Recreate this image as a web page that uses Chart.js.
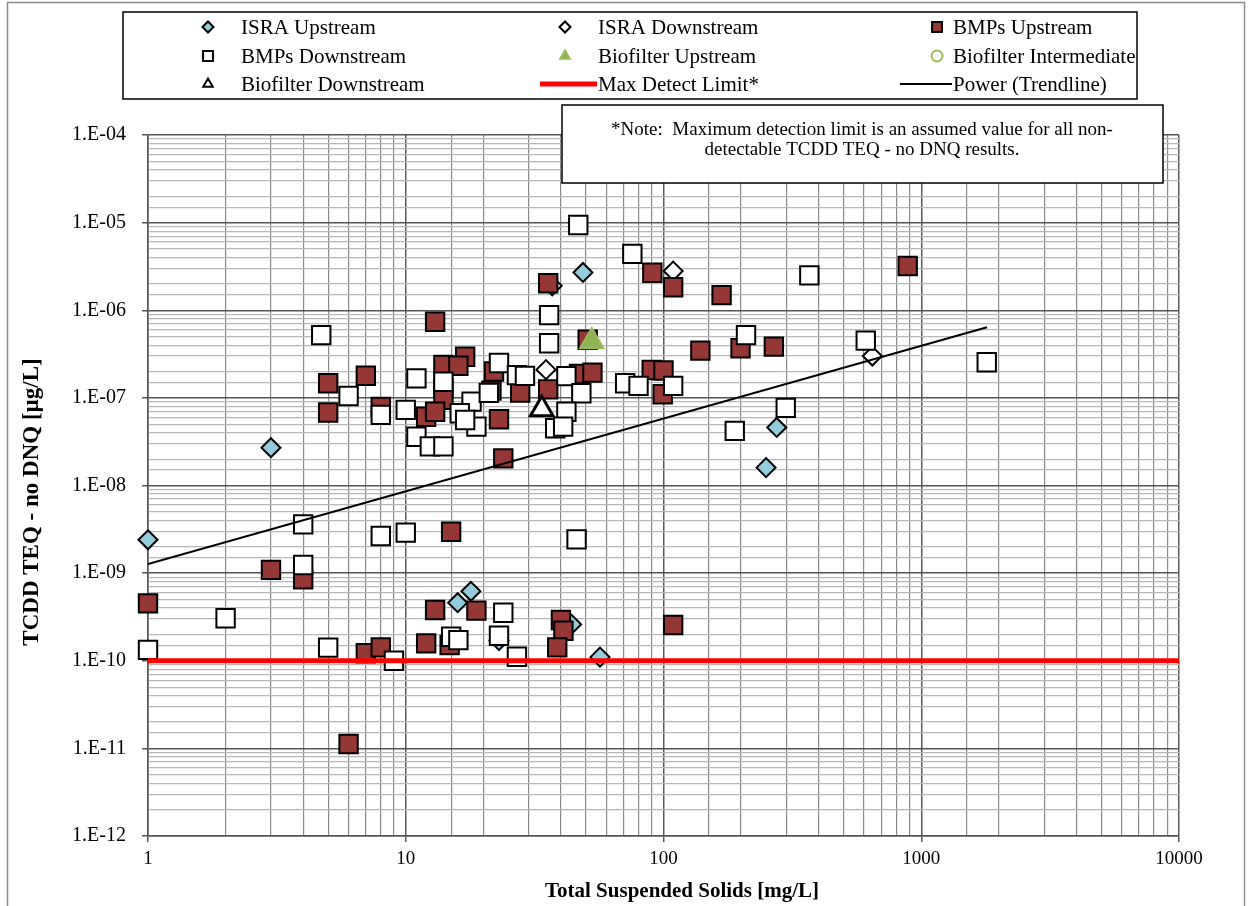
<!DOCTYPE html>
<html lang="en">
<head>
<meta charset="UTF-8">
<title>TCDD TEQ vs Total Suspended Solids</title>
<script src="https://cdn.jsdelivr.net/npm/chart.js"></script>
<style>
  body { margin: 0; background: #fff; }
  #wrap { width: 1252px; height: 906px; position: relative; }
</style>
</head>
<body>
<div id="wrap"><canvas id="tssChart"></canvas></div>
<script>
// values (TSS mg/L, TCDD TEQ ug/L)
var israUpX = [1, 3, 48.7, 275, 250, 17.9, 15.9, 23, 56.7, 44];
var israUpY = [2.4e-9, 2.7e-8, 2.7e-6, 4.6e-8, 1.6e-8, 6.2e-10, 4.6e-10, 1.7e-10, 1.1e-10, 2.6e-10];

var israDownX = [37, 109, 35, 646];
var israDownY = [1.9e-6, 2.8e-6, 2.1e-7, 3.0e-7];

var bmpUpX = [5, 7, 5, 8, 12, 13, 90.5, 109, 35.7, 168, 50.8, 139, 17, 14, 16, 22, 47, 53, 90, 100,
              99.3, 35.7, 27.8, 21.5, 14, 14, 13, 23, 23.9, 886, 199, 268, 4, 3, 1, 7, 8, 6, 13, 12,
              15, 18.8, 14.8, 40, 40.9, 38.7, 109];
var bmpUpY = [1.47e-7, 1.79e-7, 6.8e-8, 7.9e-8, 6.1e-8, 7.4e-7, 2.68e-6, 1.83e-6, 2.03e-6, 1.49e-6,
              4.6e-7, 3.46e-7, 2.95e-7, 2.37e-7, 2.33e-7, 2.0e-7, 1.87e-7, 1.94e-7, 2.08e-7, 2.05e-7,
              1.1e-7, 1.25e-7, 1.15e-7, 1.21e-7, 1.3e-7, 9.5e-8, 6.95e-8, 5.7e-8, 2.04e-8, 3.2e-6,
              3.68e-7, 3.84e-7, 8.5e-10, 1.09e-9, 4.52e-10, 1.22e-10, 1.42e-10, 1.12e-11, 3.8e-10, 1.58e-10,
              2.97e-9, 3.73e-10, 1.51e-10, 2.92e-10, 2.2e-10, 1.42e-10, 2.56e-10];

var bmpDownX = [4.7, 6, 11, 8, 10, 11, 12.4, 14, 46.7, 75.7, 36, 36, 23, 14, 27, 29, 42, 48, 71, 80,
                109, 18, 16.2, 18.8, 17, 42, 38, 40.8, 21, 368, 209, 609, 1795, 298, 189, 4, 4, 8, 10, 1,
                2, 5, 9, 46, 23.9, 15, 16, 23, 27];
var bmpDownY = [5.2e-7, 1.05e-7, 1.67e-7, 6.4e-8, 7.3e-8, 3.6e-8, 2.8e-8, 2.8e-8, 9.4e-6, 4.4e-6,
                8.8e-7, 4.2e-7, 2.5e-7, 1.53e-7, 1.82e-7, 1.78e-7, 1.77e-7, 1.13e-7, 1.47e-7, 1.37e-7,
                1.37e-7, 9.05e-8, 6.67e-8, 4.7e-8, 5.6e-8, 6.95e-8, 4.5e-8, 4.7e-8, 1.14e-7, 2.5e-6,
                5.2e-7, 4.5e-7, 2.55e-7, 7.7e-8, 4.2e-8, 3.6e-9, 1.24e-9, 2.65e-9, 2.9e-9, 1.33e-10,
                3.05e-10, 1.41e-10, 1.0e-10, 2.43e-9, 3.53e-10, 1.88e-10, 1.72e-10, 1.93e-10, 1.11e-10];

var bioUpX = [52.7];
var bioUpY = [4.4e-7];
var bioMidX = [];
var bioMidY = [];
var bioDownX = [33.7];
var bioDownY = [7.4e-8];

var detectX = [1, 10000];
var detectY = [1e-10, 1e-10];

var trendX = [1, 1800];
var trendY = [1.27e-9, 6.4e-7];

var xTitle = 'Total Suspended Solids [mg/L]';
var yTitle = 'TCDD TEQ - no DNQ [\u00b5g/L]';
var noteLines = ['*Note:  Maximum detection limit is an assumed value for all non-',
                 'detectable TCDD TEQ - no DNQ results.'];

var serif = '"Liberation Serif", "Times New Roman", serif';

function pts(xs, ys) {
    return xs.map(function (x, i) { return { x: x, y: ys[i] }; });
}

function isPow10(v) {
    var l = Math.log10(v);
    return Math.abs(l - Math.round(l)) < 1e-6;
}

function pointSet(label, xs, ys, style, radius, bg, border, bw) {
    return {
        label: label,
        data: pts(xs, ys),
        pointStyle: style,
        pointRadius: radius,
        pointHoverRadius: radius,
        backgroundColor: bg,
        borderColor: border,
        borderWidth: bw,
        showLine: false,
        clip: false
    };
}

function lineSet(label, xs, ys, color, width) {
    return {
        label: label,
        data: pts(xs, ys),
        borderColor: color,
        backgroundColor: color,
        borderWidth: width,
        showLine: true,
        pointRadius: 0,
        tension: 0
    };
}

var datasets = [
    pointSet('ISRA Upstream', israUpX, israUpY, 'rectRot', 9.5, '#93CDDD', '#000', 2),
    pointSet('ISRA Downstream', israDownX, israDownY, 'rectRot', 9.5, '#fff', '#000', 2),
    pointSet('BMPs Upstream', bmpUpX, bmpUpY, 'rect', 13, '#953735', '#000', 2),
    pointSet('BMPs Downstream', bmpDownX, bmpDownY, 'rect', 13, '#fff', '#000', 2),
    pointSet('Biofilter Upstream', bioUpX, bioUpY, 'triangle', 13.5, '#8DB255', '#9BBB59', 2),
    pointSet('Biofilter Intermediate', bioMidX, bioMidY, 'circle', 5, '#fff', '#9BBB59', 3),
    pointSet('Biofilter Downstream', bioDownX, bioDownY, 'triangle', 13, '#fff', '#000', 3),
    lineSet('Max Detect Limit*', detectX, detectY, '#ff0000', 5),
    lineSet('Power (Trendline)', trendX, trendY, '#000', 2)
];
// excel draws later series on top; in chart.js lower order is drawn last
datasets.forEach(function (d, i) { d.order = 10 - i; });

// boxed legend, note box and axis titles, drawn over the plot
var boxesPlugin = {
    id: 'boxes',
    afterDraw: function (chart) {
        var ctx = chart.ctx;
        ctx.save();

        // outer chart border
        ctx.strokeStyle = '#8c8c8c';
        ctx.lineWidth = 1.5;
        ctx.strokeRect(7.5, 2.5, 1237, 930);

        // legend
        ctx.fillStyle = '#fff';
        ctx.fillRect(123, 12, 1014, 87);
        ctx.strokeStyle = '#000';
        ctx.lineWidth = 1.5;
        ctx.strokeRect(123, 12, 1014, 87);

        var markX = [208, 565, 937];
        var textX = [241, 598, 953];
        var rowY = [27, 56, 84];
        ctx.font = '21px ' + serif;
        ctx.textBaseline = 'middle';
        ctx.textAlign = 'left';
        chart.data.datasets.forEach(function (d, i) {
            var c = i % 3, r = Math.floor(i / 3);
            var y = rowY[r];
            if (d.showLine) {
                ctx.strokeStyle = d.borderColor;
                ctx.lineWidth = d.borderWidth;
                ctx.beginPath();
                ctx.moveTo(textX[c] - (c === 1 ? 58 : 53), y);
                ctx.lineTo(textX[c] - 1, y);
                ctx.stroke();
            } else {
                ctx.fillStyle = d.backgroundColor;
                ctx.strokeStyle = d.borderColor;
                ctx.lineWidth = Math.min(d.borderWidth, 2);
                Chart.helpers.drawPoint(ctx, {
                    pointStyle: d.pointStyle,
                    radius: d.pointStyle === 'rect' ? 7 : 5.5,
                    rotation: 0,
                    borderWidth: ctx.lineWidth
                }, markX[c], y);
            }
            ctx.fillStyle = '#000';
            ctx.fillText(d.label, textX[c], y + 1);
        });

        // note box
        ctx.fillStyle = '#fff';
        ctx.fillRect(562, 105, 601, 78);
        ctx.strokeStyle = '#000';
        ctx.lineWidth = 1.5;
        ctx.strokeRect(562, 105, 601, 78);
        ctx.fillStyle = '#000';
        ctx.font = '19px ' + serif;
        ctx.textAlign = 'center';
        ctx.fillText(noteLines[0], 862, 130);
        ctx.fillText(noteLines[1], 862, 150);

        // axis titles
        ctx.font = 'bold 21px ' + serif;
        ctx.fillText(xTitle, 682, 892);
        ctx.translate(32, 502);
        ctx.rotate(-Math.PI / 2);
        ctx.font = 'bold 23px ' + serif;
        ctx.fillText(yTitle, 0, 0);

        ctx.restore();
    }
};

var ctx = document.getElementById('tssChart').getContext('2d');
var tssChart = new Chart(ctx, {
    type: 'scatter',
    data: { datasets: datasets },
    options: {
        responsive: true,
        maintainAspectRatio: false,
        animation: false,
        layout: { padding: { top: 135, right: 73, bottom: 0, left: 0 } },
        plugins: {
            legend: { display: false },
            tooltip: { enabled: false }
        },
        scales: {
            x: {
                type: 'logarithmic',
                min: 1,
                max: 10000,
                afterFit: function (scale) { scale.height = 70; },
                border: { color: '#555', width: 1.5 },
                grid: {
                    color: function (c) { return c.tick && isPow10(c.tick.value) ? '#5a5a5a' : '#8a8a8a'; },
                    lineWidth: function (c) { return c.tick && isPow10(c.tick.value) ? 1.5 : 1.2; },
                    tickColor: function (c) { return c.tick && isPow10(c.tick.value) ? '#555' : 'rgba(0,0,0,0)'; },
                    tickLength: 6
                },
                ticks: {
                    autoSkip: false,
                    maxRotation: 0,
                    padding: 6,
                    color: '#000',
                    font: { family: serif, size: 19 },
                    callback: function (v) { return isPow10(v) ? String(Math.round(v)) : ''; }
                }
            },
            y: {
                type: 'logarithmic',
                min: 1e-12,
                max: 1e-4,
                afterFit: function (scale) { scale.width = 148; },
                border: { color: '#555', width: 1.5 },
                grid: {
                    color: function (c) { return c.tick && isPow10(c.tick.value) ? '#555' : '#b8b8b8'; },
                    lineWidth: function (c) { return c.tick && isPow10(c.tick.value) ? 1.5 : 1.2; },
                    tickColor: function (c) { return c.tick && isPow10(c.tick.value) ? '#555' : 'rgba(0,0,0,0)'; },
                    tickLength: 6
                },
                ticks: {
                    autoSkip: false,
                    padding: 16,
                    color: '#000',
                    font: { family: serif, size: 20 },
                    callback: function (v) {
                        if (!isPow10(v)) return '';
                        var e = Math.round(Math.log10(v));
                        var a = Math.abs(e);
                        return '1.E' + (e < 0 ? '-' : '+') + (a < 10 ? '0' + a : a);
                    }
                }
            }
        }
    },
    plugins: [boxesPlugin]
});
</script>
</body>
</html>
